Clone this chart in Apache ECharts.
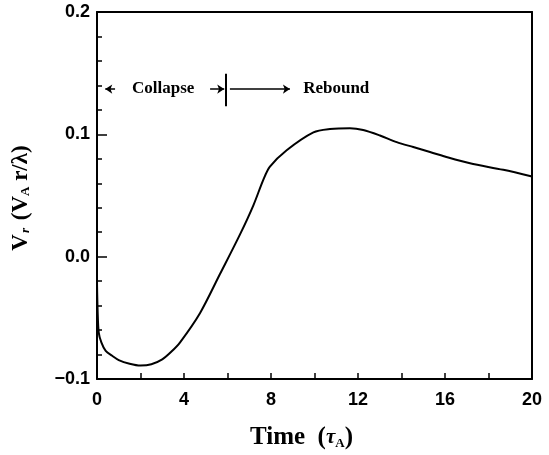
<!DOCTYPE html>
<html>
<head>
<meta charset="utf-8">
<script src="https://cdn.jsdelivr.net/npm/echarts@6/dist/echarts.min.js"></script>
<style>
  html, body { margin: 0; padding: 0; background: #fff; }
  #chart { width: 549px; height: 455px; }
</style>
</head>
<body>
<div id="chart"></div>
<script>
// Radial velocity V_r versus time (in units of tau_A)
const timeValues = [0, 0.03, 0.08, 0.2, 0.4, 0.7, 1.0, 1.5, 2.0, 2.5, 3.0, 3.4, 3.82, 4.74, 5.66, 6.57, 7.19, 7.65, 7.95, 8.72, 9.95, 10.71, 11.63, 12.24, 13.01, 13.78, 14.54, 15.31, 16.15, 17.15, 18.68, 20];
const vrValues   = [-0.021, -0.045, -0.062, -0.070, -0.077, -0.081, -0.0845, -0.0875, -0.089, -0.088, -0.084, -0.078, -0.070, -0.046, -0.014, 0.018, 0.042, 0.063, 0.0736, 0.087, 0.1016, 0.1043, 0.105, 0.1035, 0.099, 0.0936, 0.0896, 0.0856, 0.081, 0.0763, 0.071, 0.0656];

// Phase annotation: boundary between collapse and rebound
const phaseBoundary = 5.93;
const phaseLevel = 0.137;
const phaseNames = ['Collapse', 'Rebound'];

const curve = timeValues.map((t, i) => [t, vrValues[i]]);

const serif = '"Liberation Serif", "DejaVu Serif", serif';
const sans = '"Liberation Sans", Arial, sans-serif';

const chart = echarts.init(document.getElementById('chart'), null, { renderer: 'canvas' });

const arrowLine = { color: '#000', width: 1.5, type: 'solid' };

chart.setOption({
  animation: false,
  backgroundColor: '#fff',
  grid: { left: 97, right: 17, top: 12, bottom: 68, containLabel: false },
  xAxis: [{
    type: 'value', min: 0, max: 20, interval: 4,
    axisLine: { show: true, onZero: false, lineStyle: { color: '#000', width: 2 } },
    axisTick: { show: true, inside: true, length: 6, lineStyle: { color: '#000', width: 1.5 } },
    minorTick: { show: true, splitNumber: 2, length: 6, lineStyle: { color: '#000', width: 1.5 } },
    splitLine: { show: false },
    axisLabel: { color: '#000', fontFamily: sans, fontSize: 18, fontWeight: 'bold', margin: 12 },
    name: '{b|Time  (}{i|τ}{s|A}{b|)}',
    nameLocation: 'middle', nameGap: 46,
    nameTextStyle: {
      padding: [0, 26, 0, 0],
      rich: {
        b: { fontFamily: serif, fontWeight: 'bold', fontSize: 25, color: '#000' },
        i: { fontFamily: serif, fontStyle: 'italic', fontWeight: 'bold', fontSize: 21, color: '#000' },
        s: { fontFamily: serif, fontWeight: 'bold', fontSize: 13, color: '#000', verticalAlign: 'bottom', padding: [9, 0, 0, 0] }
      }
    }
  }, {
    type: 'value', min: 0, max: 20, position: 'top',
    axisLine: { show: true, onZero: false, lineStyle: { color: '#000', width: 2 } },
    axisTick: { show: false }, axisLabel: { show: false }, splitLine: { show: false }
  }],
  yAxis: [{
    type: 'value', min: -0.1, max: 0.2, interval: 0.1,
    axisLine: { show: true, onZero: false, lineStyle: { color: '#000', width: 2 } },
    axisTick: { show: true, inside: true, length: 10, lineStyle: { color: '#000', width: 1.5 } },
    minorTick: { show: true, splitNumber: 5, length: 5, lineStyle: { color: '#000', width: 1.5 } },
    splitLine: { show: false },
    axisLabel: {
      color: '#000', fontFamily: sans, fontSize: 18, fontWeight: 'bold', margin: 7,
      formatter: v => (v < 0 ? '\u2212' : '') + Math.abs(v).toFixed(1)
    }
  }, {
    type: 'value', min: -0.1, max: 0.2, position: 'right',
    axisLine: { show: true, onZero: false, lineStyle: { color: '#000', width: 2 } },
    axisTick: { show: false }, axisLabel: { show: false }, splitLine: { show: false }
  }],
  series: [{
    type: 'line',
    data: curve,
    smooth: 0.3,
    symbol: 'none',
    lineStyle: { color: '#000', width: 2 },
    z: 5
  }, {
    // phase annotation arrows and labels, placed in data coordinates
    type: 'line',
    data: [],
    symbol: 'none',
    markLine: {
      silent: true,
      animation: false,
      symbolSize: [7, 7],
      label: { show: false },
      lineStyle: arrowLine,
      data: [
        [{ coord: [0.83, phaseLevel], symbol: 'none' }, { coord: [0.38, phaseLevel], symbol: 'arrow' }],
        [{ coord: [5.2, phaseLevel], symbol: 'none' }, { coord: [phaseBoundary - 0.08, phaseLevel], symbol: 'arrow' }],
        [{ coord: [phaseBoundary + 0.18, phaseLevel], symbol: 'none' }, { coord: [8.87, phaseLevel], symbol: 'arrow' }],
        [{ coord: [phaseBoundary, 0.1496], symbol: 'none', lineStyle: { width: 2 } }, { coord: [phaseBoundary, 0.123], symbol: 'none' }]
      ]
    },
    markPoint: {
      silent: true,
      symbol: 'circle', symbolSize: 0,
      label: {
        show: true, position: 'inside', color: '#000',
        fontFamily: serif, fontWeight: 'bold', fontSize: 17,
        formatter: p => p.name
      },
      data: [
        { name: phaseNames[0], coord: [3.04, phaseLevel] },
        { name: phaseNames[1], coord: [11.0, phaseLevel] }
      ]
    }
  }],
  graphic: [{
    type: 'text',
    x: 21, y: 198,
    rotation: Math.PI / 2,
    style: {
      text: '{b|V}{i|r}{b| (V}{s|A}{b| r/λ)}',
      align: 'center', verticalAlign: 'middle',
      rich: {
        b: { fontFamily: serif, fontWeight: 'bold', fontSize: 23, fill: '#000' },
        i: { fontFamily: serif, fontStyle: 'italic', fontWeight: 'bold', fontSize: 13, fill: '#000', padding: [9, 2, 0, 1] },
        s: { fontFamily: serif, fontWeight: 'bold', fontSize: 13, fill: '#000', padding: [9, 0, 0, 0] }
      }
    }
  }]
});
</script>
</body>
</html>
